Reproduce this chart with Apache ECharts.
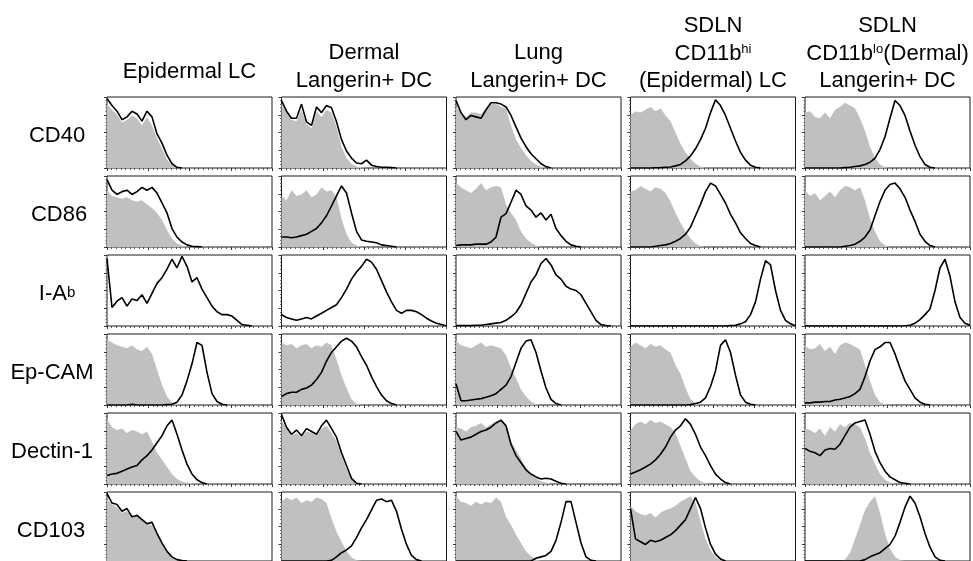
<!DOCTYPE html>
<html>
<head>
<meta charset="utf-8">
<script src="https://cdn.jsdelivr.net/npm/echarts@6/dist/echarts.min.js"></script>
<style>
  html, body { margin: 0; padding: 0; background: #fff; }
  #main { width: 973px; height: 561px; }
</style>
</head>
<body>
<div id="main"></div>
<script>
// column headers (cell populations) and row labels (markers)
const populations = [
    ['Epidermal LC'],
    ['Dermal', 'Langerin+ DC'],
    ['Lung', 'Langerin+ DC'],
    ['SDLN', 'CD11b{sup|hi}', '(Epidermal) LC'],
    ['SDLN', 'CD11b{sup|lo}(Dermal)', 'Langerin+ DC']
];
const markers = ['CD40', 'CD86', 'I-A{low|b}', 'Ep-CAM', 'Dectin-1', 'CD103'];

// histograms, % of mode per fluorescence bin (34 bins over 4 decades)
// *_ISO = grey filled control, *_STAIN = black line, one list per population
const CD40_ISO = [
    [90,82,75,64,68,74,70,60,72,60,42,28,12,4,1,0],
    [90,78,68,66,82,62,56,80,72,82,78,58,30,14,6,2,1,0],
    [85,80,72,78,78,76,84,90,90,86,84,60,40,28,18,10,5,2,0],
    [75,80,78,82,86,80,84,74,66,50,34,22,13,6,2,0],
    [78,80,72,70,78,70,82,86,92,88,84,70,52,30,14,5,1,0]
];
const CD40_STAIN = [
    [98,88,80,68,72,80,76,66,80,72,48,35,18,6,1,0],
    [95,80,70,70,90,65,60,86,78,88,85,65,40,24,14,7,6,11,4,2,1,1,0.5,0],
    [95,78,68,74,72,70,82,92,92,90,86,74,58,42,30,20,13,6,2,0],
    [0,0,0,0,0,0.3,0.5,1,1.5,3,5,10,17,27,40,56,78,96,88,74,56,38,22,11,4,1,0],
    [0,0,0,0,0,0,0,0,0.5,1,2,3,5,8,14,26,44,70,95,88,74,52,32,16,5,1,0]
];

const CD86_ISO = [
    [80,72,70,68,70,66,64,66,60,55,48,38,24,12,5,2,0.5,0],
    [72,66,80,72,74,80,70,74,84,78,80,70,40,18,6,2,0.5,0],
    [90,84,80,76,82,90,80,84,86,84,60,48,38,22,12,6,2,0],
    [78,80,86,82,78,84,82,76,64,48,34,22,12,5,1,0],
    [80,72,76,66,72,78,70,80,86,84,80,84,66,40,22,8,2,0]
];
const CD86_STAIN = [
    [95,80,74,78,80,74,78,84,80,84,76,62,48,26,14,7,3,1,0.5,0],
    [14,14,13,14,16,18,22,26,34,44,58,72,86,76,48,22,10,8,7,6,3,2,1,0],
    [2,3,3,3,4,4,4,7,14,42,47,63,80,74,58,52,42,48,38,46,26,16,8,3,1,0],
    [0,0,0,0,0,1,2,3,5,8,12,18,28,44,60,78,90,86,74,62,46,34,20,12,5,2,0],
    [0,0,0,0,0,0,0,0,1,2,4,8,14,24,44,64,80,88,90,82,70,52,36,18,8,2,0]
];

const IAB_ISO = [null, null, null, null, null];
const IAB_STAIN = [
    [95,26,35,40,28,38,36,44,32,46,60,68,80,94,82,98,84,62,68,52,40,28,20,16,16,14,8,2,1,0],
    [16,12,10,8,10,12,10,14,18,22,26,30,40,52,66,76,84,94,90,80,64,48,34,22,18,22,22,20,16,11,7,4,2,0],
    [0.5,0.5,0.5,0.5,1,1,2,3,4,5,8,13,19,30,46,62,72,88,95,86,72,66,56,52,50,44,32,20,8,2,0.5,0],
    [0,0,0,0,0,0,0,0,0,0,0,0,0,0,0,0,0,0,0,0,0.5,1,3,6,16,34,66,92,86,50,22,8,3,0.5],
    [0,0,0,0,0,0,0,0,0,0,0,0,0,0,0,0,0,0,0,0,0.3,1,4,9,16,24,50,82,94,70,34,12,4,1]
];

const EPCAM_ISO = [
    [92,88,84,82,80,84,78,76,82,72,50,28,12,3,1,0],
    [88,84,86,80,84,86,80,84,82,88,84,64,42,24,8,2,0],
    [90,84,82,80,84,88,82,84,82,80,70,52,38,22,12,5,1,0],
    [82,88,84,80,86,82,84,78,74,56,44,24,8,2,0],
    [84,78,80,86,76,82,72,84,88,86,82,78,56,34,14,4,1,0]
];
const EPCAM_STAIN = [
    [0,0,0,0,0,1,0,0,0,0,0,0,0.5,1,4,14,34,58,88,84,46,16,5,1,0],
    [12,16,18,18,22,24,28,36,46,62,74,82,90,94,90,82,68,56,40,26,14,6,2,0],
    [30,6,6,7,8,9,11,13,16,22,28,40,60,80,90,92,74,48,24,8,2,0],
    [0,0,0,0,0,0,0,0,0,0,0,0,0.5,2,4,10,26,48,84,92,74,42,14,4,1,0],
    [3,3,4,4,5,5,7,8,10,12,16,22,40,62,78,82,88,88,72,52,34,22,10,4,1,0]
];

const DECTIN_ISO = [
    [92,80,76,78,72,76,74,70,74,60,44,34,24,14,7,3,2,1,0],
    [90,78,68,72,66,74,72,68,78,82,72,60,40,22,8,2,0],
    [80,78,74,80,82,86,80,84,88,90,82,60,48,36,22,14,8,4,2,0],
    [76,84,88,84,90,86,88,84,80,72,54,36,18,10,4,1,0],
    [78,76,72,78,68,80,74,84,80,86,84,80,64,44,28,14,6,2,0]
];
const DECTIN_STAIN = [
    [12,14,15,18,21,24,26,34,40,48,58,68,82,90,70,48,28,14,6,2,0],
    [98,80,70,76,68,78,74,70,82,90,78,66,44,26,8,1,0],
    [74,62,64,66,70,74,76,80,86,90,82,56,40,30,20,14,10,7,8,7,4,1,0],
    [14,17,20,24,28,34,42,52,66,76,82,92,84,70,52,40,26,14,7,2,0],
    [50,46,44,40,48,50,49,56,68,80,86,88,90,70,46,30,18,10,6,2,1,0]
];

const CD103_ISO = [
    [90,82,78,70,72,64,68,62,54,52,38,24,12,5,2,0],
    [86,92,88,92,84,88,86,92,90,84,62,42,28,14,5,1,0],
    [94,86,84,80,86,82,86,84,92,86,64,52,38,26,14,7,2,0],
    [80,72,68,66,70,63,70,74,76,80,86,90,94,84,58,32,16,6,1,0],
    [0,0,0,0,0,0,0,0,2,12,32,52,74,86,94,70,40,18,6,1,0]
];
const CD103_STAIN = [
    [98,84,82,72,76,64,66,60,54,56,40,26,14,6,2,0.5,0],
    [0,0,0,0,0,0,0,0,0,0,1,6,12,16,22,34,48,60,74,88,90,86,88,72,46,24,8,2,0],
    [0,0,0,0,0,0,0,0,0,0,0,0,0,0,0,0,4,6,8,14,30,56,86,86,56,26,6,1,0],
    [76,32,28,24,30,28,30,34,38,44,52,60,76,92,76,48,24,10,3,0],
    [0,0,0,0,0,0,0,0,0,0,0,0,2,6,9,12,18,24,36,56,78,94,84,64,40,20,6,1,0]
];

const ISO = [CD40_ISO, CD86_ISO, IAB_ISO, EPCAM_ISO, DECTIN_ISO, CD103_ISO];
const STAIN = [CD40_STAIN, CD86_STAIN, IAB_STAIN, EPCAM_STAIN, DECTIN_STAIN, CD103_STAIN];

// layout of the panel grid
const PANEL_W = 165, PANEL_H = 71;
const COL_LEFT = [107, 281.5, 456, 630.5, 805];
const ROW_TOP = [97, 176, 255, 334, 413, 492];
const BINS = 33;
const FONT = '"Liberation Sans", Arial, sans-serif';
const richStyles = {
    sup: { fontSize: 13, fontFamily: FONT, verticalAlign: 'top', lineHeight: 14 },
    low: { fontSize: 15, fontFamily: FONT, verticalAlign: 'bottom', lineHeight: 15, padding: [0, 0, 4, 0] }
};

const grids = [], xAxes = [], yAxes = [], series = [];
ROW_TOP.forEach((top, r) => {
    COL_LEFT.forEach((left, c) => {
        const idx = grids.length;
        grids.push({
            left: left, top: top, width: PANEL_W, height: PANEL_H,
            show: true, borderColor: '#1a1a1a', borderWidth: 1, backgroundColor: '#fff'
        });
        xAxes.push({
            gridIndex: idx, type: 'value', min: 0, max: BINS, interval: BINS / 4,
            axisLine: { show: false }, axisLabel: { show: false }, splitLine: { show: false },
            axisTick: { show: true, inside: false, length: 3, lineStyle: { color: '#333', width: 1 } },
            minorTick: { show: true, splitNumber: 9, length: 2, lineStyle: { color: '#555' } }
        });
        yAxes.push({
            gridIndex: idx, type: 'value', min: 0, max: 100, interval: 25,
            axisLine: { show: false }, axisLabel: { show: false }, splitLine: { show: false },
            axisTick: { show: true, inside: false, length: 3, lineStyle: { color: '#333', width: 1 } },
            minorTick: { show: true, splitNumber: 5, length: 1.5, lineStyle: { color: '#666' } }
        });
        const iso = ISO[r][c];
        if (iso) {
            series.push({
                type: 'line', xAxisIndex: idx, yAxisIndex: idx,
                data: iso.map((v, i) => [i, v]),
                showSymbol: false, silent: true,
                lineStyle: { width: 0 },
                areaStyle: { color: '#c0c0c0', opacity: 1 }
            });
        }
        series.push({
            type: 'line', xAxisIndex: idx, yAxisIndex: idx,
            data: STAIN[r][c].map((v, i) => [i, v]),
            showSymbol: false, silent: true,
            lineStyle: { color: '#000', width: 1.6 }
        });
    });
});

// headers and row labels as text graphics
const headerY = { 1: [72], 2: [53, 81], 3: [26, 54, 81] };
const rowLabelX = [57, 59, 57, 52, 52, 51];
const graphics = [];
function label(txt, x, y) {
    return {
        type: 'text', x: x, y: y,
        style: {
            text: txt, align: 'center', verticalAlign: 'middle',
            fontSize: 22, fontFamily: FONT, fill: '#000', lineHeight: 22,
            rich: richStyles
        }
    };
}
populations.forEach((lines, c) => {
    lines.forEach((txt, k) => {
        graphics.push(label(txt, COL_LEFT[c] + PANEL_W / 2, headerY[lines.length][k]));
    });
});
markers.forEach((txt, r) => {
    graphics.push(label(txt, rowLabelX[r], ROW_TOP[r] + PANEL_H / 2 + 3));
});

const chart = echarts.init(document.getElementById('main'), null, { renderer: 'canvas' });
chart.setOption({
    animation: false,
    backgroundColor: '#fff',
    grid: grids,
    xAxis: xAxes,
    yAxis: yAxes,
    series: series,
    graphic: graphics
});
</script>
</body>
</html>
